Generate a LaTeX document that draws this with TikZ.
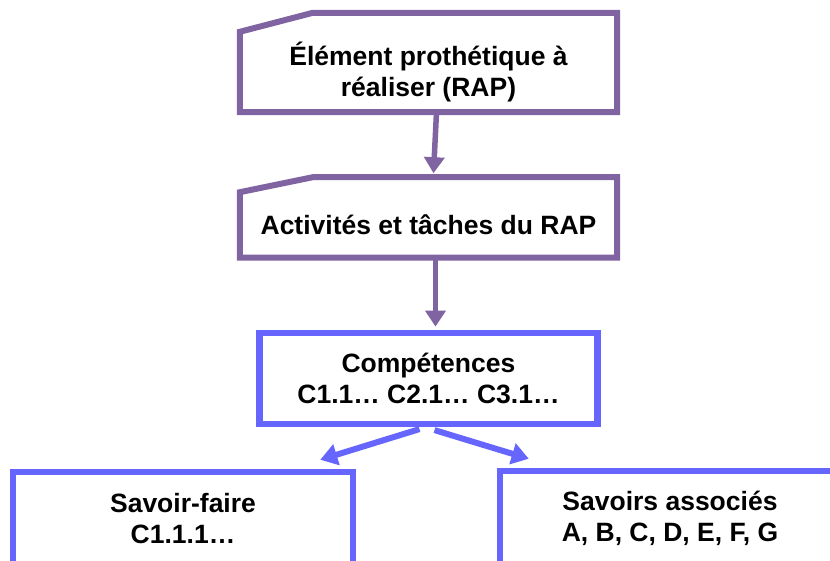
\documentclass[tikz,border=0pt]{standalone}
\usepackage{fontspec}
\setmainfont{Liberation Sans}
\usetikzlibrary{positioning,calc,arrows.meta}
\definecolor{rapviolet}{HTML}{8064A2}
\definecolor{compbleu}{HTML}{6666FF}
\tikzset{
  boite/.style={align=center, font=\bfseries\fontsize{26.5}{31}\selectfont, inner sep=0pt},
  boiteviolette/.style={boite, minimum width=377pt},
  boitebleue/.style={boite, draw=compbleu, line width=6.5pt, minimum width=338pt},
  contour/.style={draw=rapviolet, line width=6pt, line join=miter},
  fleche/.style={-{Triangle[width=20pt,length=16pt]}, line width=5.5pt},
}
\begin{document}
\begin{tikzpicture}[x=1pt, y=-1pt]
   \useasboundingbox (0,0) rectangle (830,560);
   \clip (0,0) rectangle (830,560);
   \node[boiteviolette, minimum height=80pt] (rap) at (428.5,72) {Élément prothétique à\\réaliser (RAP)};
   \node[boiteviolette, minimum height=65pt, below=80pt of rap] (act) {Activités et tâches du RAP};
   \node[boitebleue, minimum height=91pt, below=72pt of act] (comp) {Compétences\\C1.1… C2.1… C3.1…};
   \node[boitebleue, minimum width=340pt, minimum height=94pt] (sf) at (183,519) {Savoir-faire\\C1.1.1…};
   \node[boitebleue, minimum width=340pt, minimum height=94pt] (sa) at (670,518) {Savoirs associés\\A, B, C, D, E, F, G};
   % contours en biseau
   \draw[contour] (rap.south west) -- (rap.north west) -- ($(rap.north west)+(73,-19)$)
      -- ($(rap.north east)+(0,-19)$) -- (rap.south east) -- cycle;
   \draw[contour] (act.south west) -- (act.north west) -- ($(act.north west)+(73,-15)$)
      -- ($(act.north east)+(0,-15)$) -- (act.south east) -- cycle;
   \coordinate (act haut) at ($(act.north)+(0,-15)$);
   % fleches
   \draw[fleche, rapviolet] ($(rap.south)+(8,0)$) -- ($(act haut)+(5,-4)$);
   \draw[fleche, rapviolet] ($(act.south)+(7,0)$) -- ($(comp.north)+(7,-3)$);
   \draw[fleche, compbleu, line width=6pt, -{Triangle[width=21pt,length=17pt]}] ($(comp.south)+(-9,2)$) -- ($(sf.north east)+(-36,-9)$);
   \draw[fleche, compbleu, line width=6pt, -{Triangle[width=21pt,length=17pt]}] ($(comp.south)+(6,3)$) -- ($(sa.north west)+(32,-9)$);
  \end{tikzpicture}
\end{document}
